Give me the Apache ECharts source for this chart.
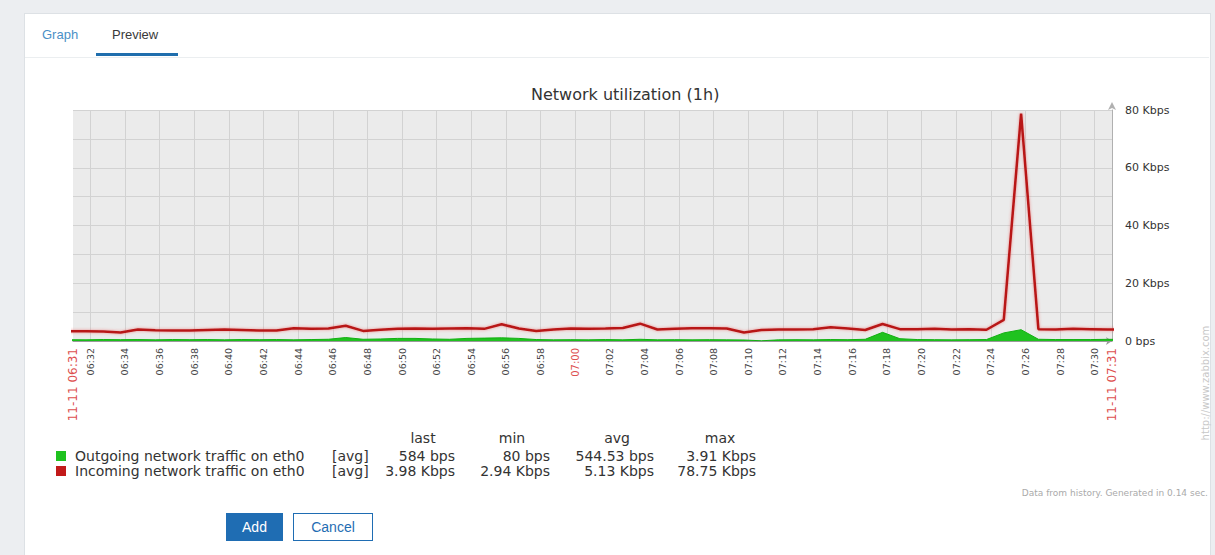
<!DOCTYPE html>
<html>
<head>
<meta charset="utf-8">
<title>Network utilization (1h)</title>
<script src="https://cdn.jsdelivr.net/npm/echarts@6/dist/echarts.min.js"></script>
<style>
  html, body { margin: 0; padding: 0; width: 1215px; height: 555px; overflow: hidden; background: #eceef1; font-family: "Liberation Sans", Arial, sans-serif; }
  .panel { position: absolute; left: 24px; top: 13px; width: 1185px; height: 545px; background: #fff; border: 1px solid #dde1e5; }
  .tabline { position: absolute; left: 25px; top: 57px; width: 1184px; height: 1px; background: #ebeef0; z-index: 2; }
  .tab { position: absolute; top: 27px; font-size: 13px; z-index: 2; }
  .tab.graph { left: 42px; color: #4a90c6; }
  .tab.preview { left: 112px; color: #3a3a3a; }
  .tab-underline { position: absolute; left: 96px; top: 53px; width: 82px; height: 3px; background: #1f6ead; z-index: 3; }
  #chart { position: absolute; left: 0; top: 0; width: 1215px; height: 555px; z-index: 1; }
  .btn { position: absolute; top: 513px; height: 28px; box-sizing: border-box; font-size: 14px; line-height: 26px; text-align: center; z-index: 2; }
  .btn.add { left: 226px; width: 57px; background: #1f6db3; color: #fff; border: 1px solid #1f6db3; }
  .btn.cancel { left: 293px; width: 80px; background: #fff; color: #1f6db3; border: 1px solid #1f6db3; }
</style>
</head>
<body>
<div class="panel"></div>
<div class="tab graph">Graph</div>
<div class="tab preview">Preview</div>
<div class="tab-underline"></div>
<div class="tabline"></div>
<div id="chart"></div>
<div class="btn add">Add</div>
<div class="btn cancel">Cancel</div>

<script>
// sample times (one value per minute)
const sampleTimes = [
  '06:30:45', '06:31:45', '06:32:45', '06:33:45', '06:34:45', '06:35:45', '06:36:45', '06:37:45', '06:38:45', '06:39:45',
  '06:40:45', '06:41:45', '06:42:45', '06:43:45', '06:44:45', '06:45:45', '06:46:45', '06:47:45', '06:48:45', '06:49:45',
  '06:50:45', '06:51:45', '06:52:45', '06:53:45', '06:54:45', '06:55:45', '06:56:45', '06:57:45', '06:58:45', '06:59:45',
  '07:00:45', '07:01:45', '07:02:45', '07:03:45', '07:04:45', '07:05:45', '07:06:45', '07:07:45', '07:08:45', '07:09:45',
  '07:10:45', '07:11:45', '07:12:45', '07:13:45', '07:14:45', '07:15:45', '07:16:45', '07:17:45', '07:18:45', '07:19:45',
  '07:20:45', '07:21:45', '07:22:45', '07:23:45', '07:24:45', '07:25:45', '07:26:45', '07:27:45', '07:28:45', '07:29:45',
  '07:30:45', '07:31:45'
];

// Kbps
const outgoing = [
  0.45, 0.4, 0.5, 0.45, 0.5, 0.4, 0.5, 0.45, 0.5, 0.4,
  0.5, 0.45, 0.5, 0.4, 0.5, 0.6, 1.2, 0.6, 0.7, 0.9,
  0.9, 0.7, 0.6, 0.9, 1.0, 1.1, 0.9, 0.5, 0.4, 0.45,
  0.4, 0.5, 0.4, 0.6, 0.4, 0.45, 0.4, 0.45, 0.4, 0.35,
  0.08, 0.4, 0.45, 0.4, 0.5, 0.45, 0.6, 3.0, 0.8, 0.5,
  0.45, 0.4, 0.45, 0.5, 2.8, 3.91, 0.6, 0.5, 0.5, 0.5,
  0.584, 0.55
];
const incoming = [
  3.4, 3.4, 3.3, 2.94, 4.0, 3.7, 3.6, 3.6, 3.8, 4.0,
  3.8, 3.6, 3.6, 4.4, 4.2, 4.3, 5.3, 3.5, 3.9, 4.2,
  4.3, 4.2, 4.3, 4.4, 4.2, 5.8, 4.3, 3.5, 4.0, 4.3,
  4.2, 4.3, 4.5, 6.0, 4.0, 4.2, 4.4, 4.4, 4.3, 2.95,
  3.8, 4.0, 4.0, 4.1, 4.8, 4.3, 3.8, 5.9, 4.1, 4.1,
  4.2, 4.0, 4.1, 3.9, 7.3, 78.75, 4.1, 4.0, 4.2, 4.1,
  3.98, 4.0
];

const yTickValues = [0, 20, 40, 60, 80];
const yTickLabels = ['0 bps', '20 Kbps', '40 Kbps', '60 Kbps', '80 Kbps'];
const rangeStart = '06:31';
const rangeEnd = '07:31';
const rangeDate = '11-11';

const legendNames = ['Outgoing network traffic on eth0', 'Incoming network traffic on eth0'];
const legendColors = ['#1fc21f', '#c21a1a'];
const statHeaders = ['last', 'min', 'avg', 'max'];
const statLast = ['584 bps', '3.98 Kbps'];
const statMin = ['80 bps', '2.94 Kbps'];
const statAvg = ['544.53 bps', '5.13 Kbps'];
const statMax = ['3.91 Kbps', '78.75 Kbps'];

function toMin(t) {
  const p = t.split(':').map(Number);
  return p[0] * 60 + p[1] + (p[2] || 0) / 60;
}
function pad(n) { return (n < 10 ? '0' : '') + n; }

const xMin = toMin(rangeStart);
const xMax = toMin(rangeEnd);

const chart = echarts.init(document.getElementById('chart'), null, { renderer: 'svg' });

// legend table under the graph
const font = '14px "DejaVu Sans"';
const statCols = [statLast, statMin, statAvg, statMax];
const colRight = [455, 550, 654, 756];
const headCenter = [423, 512, 617, 720];
const legendGraphic = [];
statHeaders.forEach((h, i) => {
  legendGraphic.push({ type: 'text', x: headCenter[i], y: 438, style: { text: h, font, fill: '#333', align: 'center', verticalAlign: 'middle' } });
});
legendNames.forEach((name, r) => {
  const y = 456 + r * 15;
  legendGraphic.push({ type: 'rect', shape: { x: 56, y: y - 5, width: 10, height: 10 }, style: { fill: legendColors[r] } });
  legendGraphic.push({ type: 'text', x: 75, y, style: { text: name, font, fill: '#333', verticalAlign: 'middle' } });
  legendGraphic.push({ type: 'text', x: 332, y, style: { text: '[avg]', font, fill: '#333', verticalAlign: 'middle' } });
  statCols.forEach((col, c) => {
    legendGraphic.push({ type: 'text', x: colRight[c], y, style: { text: col[r], font, fill: '#333', align: 'right', verticalAlign: 'middle' } });
  });
});
legendGraphic.push({ type: 'text', x: 1208, y: 493, style: { text: 'Data from history. Generated in 0.14 sec.', font: '9px "DejaVu Sans"', fill: '#aaa', align: 'right', verticalAlign: 'middle' } });
legendGraphic.push({ type: 'text', x: 1205, y: 383, rotation: Math.PI / 2, style: { text: 'http://www.zabbix.com', font: '10px "DejaVu Sans"', fill: '#c8c8c8', align: 'center', verticalAlign: 'middle' } });

chart.setOption({
  animation: false,
  title: {
    text: 'Network utilization (1h)',
    left: 526,
    top: 81,
    textStyle: { fontFamily: 'DejaVu Sans', fontSize: 16, fontWeight: 'normal', color: '#333' }
  },
  grid: {
    left: 73, right: 103, top: 110, bottom: 214,
    show: true, backgroundColor: '#ebebeb', borderWidth: 0
  },
  xAxis: {
    type: 'value',
    min: xMin,
    max: xMax,
    interval: 1,
    axisLine: { show: true, lineStyle: { color: '#9a9a9a' }, symbol: ['none', 'arrow'], symbolSize: [6, 6] },
    axisTick: { show: false },
    splitLine: { show: true, lineStyle: { color: ['rgba(0,0,0,0)', '#d2d2d2'], width: 1 } },
    axisLabel: {
      rotate: 90,
      margin: 7,
      fontFamily: 'DejaVu Sans',
      fontSize: 9.5,
      color: '#444',
      showMinLabel: true,
      showMaxLabel: true,
      formatter: function (v) {
        const m = Math.round(v);
        const label = pad(Math.floor(m / 60)) + ':' + pad(m % 60);
        if (m === xMin || m === xMax) return '{edge|' + rangeDate + ' ' + label + '}';
        if (m % 60 === 0) return '{hour|' + label + '}';
        return m % 2 === 0 ? label : '';
      },
      rich: {
        edge: { color: '#dd5050', fontSize: 12, fontFamily: 'DejaVu Sans' },
        hour: { color: '#dd5050', fontSize: 10, fontFamily: 'DejaVu Sans' }
      }
    }
  },
  yAxis: {
    type: 'value',
    position: 'right',
    min: 0,
    max: 80,
    interval: 10,
    axisLine: { show: true, lineStyle: { color: '#b0b0b0' }, symbol: ['none', 'arrow'], symbolSize: [6, 8], symbolOffset: [0, 8] },
    axisTick: { show: false },
    splitLine: { show: true, lineStyle: { color: '#d2d2d2', width: 1 } },
    axisLabel: {
      margin: 13,
      fontFamily: 'DejaVu Sans',
      fontSize: 11,
      color: '#333',
      formatter: function (v) {
        const i = yTickValues.indexOf(v);
        return i >= 0 ? yTickLabels[i] : '';
      }
    }
  },
  series: [
    {
      name: legendNames[0],
      type: 'line',
      showSymbol: false,
      data: sampleTimes.map((t, i) => [toMin(t), outgoing[i]]),
      lineStyle: { color: '#11b011', width: 1 },
      itemStyle: { color: legendColors[0] },
      areaStyle: { color: legendColors[0], opacity: 1 },
      z: 2
    },
    {
      name: legendNames[1],
      type: 'line',
      showSymbol: false,
      data: sampleTimes.map((t, i) => [toMin(t), incoming[i]]),
      lineStyle: { color: '#b81515', width: 2.5, shadowColor: 'rgba(235,80,80,0.6)', shadowBlur: 3 },
      itemStyle: { color: legendColors[1] },
      z: 3
    }
  ],
  graphic: legendGraphic
});
</script>
</body>
</html>
